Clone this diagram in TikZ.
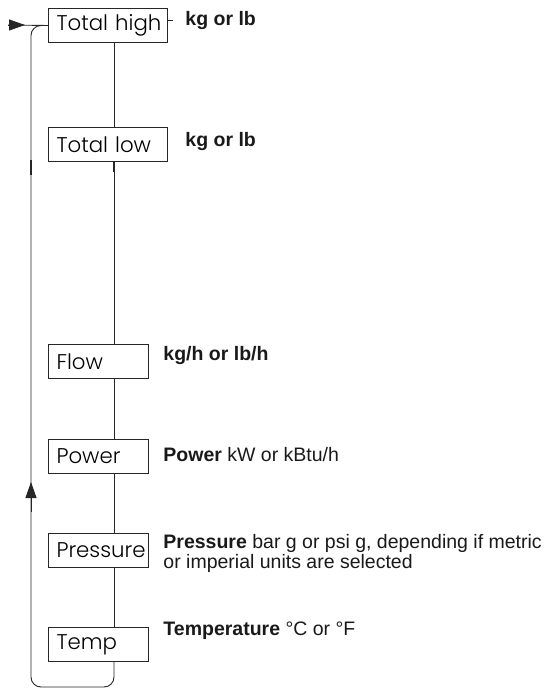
\documentclass[tikz,border=0pt]{standalone}
\usepackage{fontspec}
\setmainfont{Liberation Sans}
\newfontfamily\boxfont{Poppins}[UprightFont=* Light]
\usetikzlibrary{arrows.meta}
\begin{document}
\begin{tikzpicture}[x=1pt,y=-1pt,
  line width=0.9pt, draw=black!85,
  box/.style={draw=black!85, line width=1pt, anchor=north west, inner xsep=8pt, inner ysep=0pt,
    minimum height=34pt, align=left, font=\boxfont\fontsize{21.3}{21.3}\selectfont},
  widebox/.style={box, text width=103pt},
  narrowbox/.style={box, text width=84pt},
  lab/.style={anchor=base west, inner sep=0pt, align=left, text=black!90,
    font=\fontsize{19.5}{20}\selectfont},
  tip/.style={-{Triangle[length=16pt,width=11pt]}}
]
\useasboundingbox (0,0) rectangle (559,688);
% reference coordinates
\coordinate (spine) at (114,0);
\coordinate (left) at (31,0);
\coordinate (bot) at (0,687);
\coordinate (entry) at (8,25);
\coordinate (entrytip) at (25,25);

% boxes
\node[widebox]   (th) at (48,8)   {\mbox{Total high}};
\node[widebox]   (tl) at (48,127) {\mbox{Total low}};
\node[narrowbox] (fl) at (48,344) {Flow};
\node[narrowbox] (pw) at (48,439) {Power};
\node[narrowbox] (pr) at (48,533) {\mbox{Pressure}};
\node[narrowbox] (tp) at (48,627) {Temp};

% labels
\node[lab] (lth) at (185,25)  {\textbf{kg or lb}};
\node[lab] (ltl) at (185,146) {\textbf{kg or lb}};
\node[lab] (lfl) at (163,360) {\textbf{kg/h or lb/h}};
\node[lab] (lpw) at (163,461) {\textbf{Power} kW or kBtu/h};
\node[lab] (lpr) at (163,568) {\textbf{Pressure} bar g or psi g, depending if metric\\or imperial units are selected};
\node[lab] (ltp) at (163,635) {\textbf{Temperature} °C or °F};

% spine connectors
\draw (th.south -| spine) -- (tl.north -| spine);
\draw (tl.south -| spine) -- (fl.north -| spine);
\draw (fl.south -| spine) -- (pw.north -| spine);
\draw (pw.south -| spine) -- (pr.north -| spine);
\draw (pr.south -| spine) -- (tp.north -| spine);

% return loop
\draw[rounded corners=10pt] (tp.south -| spine) -- (spine |- bot) -- (left |- bot)
  -- (left |- th.west) -- (th.west);
\draw (entry) -- (th.west);
\draw[tip] (entry) -- (entrytip);
\draw[tip] (left |- 0,512) -- (left |- 0,482);

% small marks
\draw ([yshift=5pt]th.east) -- ++(5,0);
\draw[line width=1.8pt] (left |- 0,160) -- (left |- 0,175);
\draw[line width=1.8pt] (spine |- 0,162) -- (spine |- 0,172);
\end{tikzpicture}
\end{document}
